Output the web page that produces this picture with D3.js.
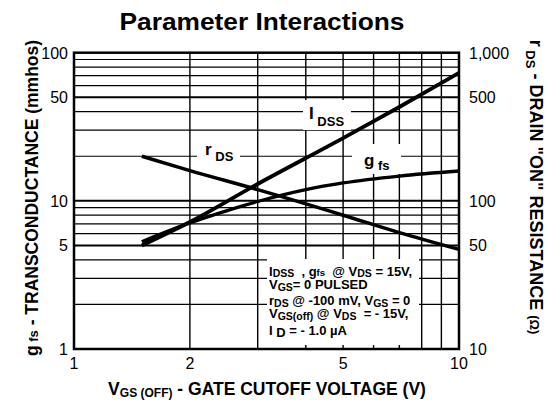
<!DOCTYPE html>
<html><head><meta charset="utf-8">
<script src="https://cdn.jsdelivr.net/npm/d3@7"></script>
<style>
body{margin:0;background:#fff}
svg{display:block}
text{font-family:"Liberation Sans",Arial,Helvetica,sans-serif;fill:#000}
</style>
</head><body>
<svg id="c" width="547" height="403"></svg>
<script>
// ---- data ----
const idssX = [1.5, 2, 3, 5, 7, 10];
const idssY = [5, 7.2, 13, 26.5, 43, 73];          // mA, left axis
const gfsX  = [1.5, 2, 2.5, 3, 4, 5, 7, 10];
const gfsY  = [5.3, 7.1, 8.6, 9.9, 11.9, 13.2, 14.7, 15.9]; // mmhos, left axis
const rdsX  = [1.5, 2, 3, 5, 7, 10];
const rdsY  = [200, 160, 119, 80, 61, 47];          // ohms, right axis
const xTickVals = [1, 2, 5, 10];
const xTickLabels = ["1", "2", "5", "10"];
const yLeftTickVals = [1, 5, 10, 50, 100];
const yLeftTickLabels = ["1", "5", "10", "50", "100"];
const yRightTickVals = [10, 50, 100, 500, 1000];
const yRightTickLabels = ["10", "50", "100", "500", "1,000"];
const xGridVals = [2, 3, 4, 5, 6, 7, 8, 9];
const yGridVals = [2, 3, 4, 5, 6, 7, 8, 9, 10, 20, 30, 40, 50, 60, 70, 80, 90];
const yMajorGrid = [5, 10, 50];

const svg = d3.select("#c");
const L = 74, R = 459, T = 52.7, B = 349;
const x = d3.scaleLog().domain([1, 10]).range([L, R]);
const yL = d3.scaleLog().domain([1, 100]).range([B, T]);
const yR = d3.scaleLog().domain([10, 1000]).range([B, T]);

// grid
const g = svg.append("g");
g.selectAll("line.v").data(xGridVals).join("line")
  .attr("x1", d => x(d)).attr("x2", d => x(d)).attr("y1", T).attr("y2", B)
  .attr("stroke", "#000").attr("stroke-width", 1.4);
g.selectAll("line.h").data(yGridVals).join("line")
  .attr("x1", L).attr("x2", R).attr("y1", d => yL(d)).attr("y2", d => yL(d))
  .attr("stroke", "#000").attr("stroke-width", d => yMajorGrid.includes(d) ? 2 : 1.2);

// white label backgrounds
const bgs = [[303, 100, 48, 30], [197, 143, 43, 27], [352, 144, 49, 30], [267, 259, 152, 86]];
svg.selectAll("rect.bg").data(bgs).join("rect")
  .attr("x", d => d[0]).attr("y", d => d[1]).attr("width", d => d[2]).attr("height", d => d[3])
  .attr("fill", "#fff");

// border
svg.append("rect").attr("x", L).attr("y", T).attr("width", R - L).attr("height", B - T)
  .attr("fill", "none").attr("stroke", "#000").attr("stroke-width", 2.5);

// curves
const lineL = d3.line().x(d => x(d[0])).y(d => yL(d[1])).curve(d3.curveMonotoneX);
const lineR = d3.line().x(d => x(d[0])).y(d => yR(d[1])).curve(d3.curveMonotoneX);
svg.append("path").attr("d", lineL(d3.zip(idssX, idssY))).attr("fill", "none").attr("stroke", "#000").attr("stroke-width", 3.8);
svg.append("path").attr("d", lineL(d3.zip(gfsX, gfsY))).attr("fill", "none").attr("stroke", "#000").attr("stroke-width", 3.3);
svg.append("path").attr("d", lineR(d3.zip(rdsX, rdsY))).attr("fill", "none").attr("stroke", "#000").attr("stroke-width", 3.5);

// tick labels
svg.selectAll("text.xl").data(xTickVals).join("text")
  .attr("x", d => x(d)).attr("y", 369).attr("text-anchor", "middle")
  .attr("font-size", 16).text((d, i) => xTickLabels[i]);
svg.selectAll("text.yl").data(yLeftTickVals).join("text")
  .attr("x", 68).attr("y", d => yL(d) + 6).attr("text-anchor", "end")
  .attr("font-size", 16).text((d, i) => yLeftTickLabels[i]);
svg.selectAll("text.yr").data(yRightTickVals).join("text")
  .attr("x", 469).attr("y", d => yR(d) + 6).attr("text-anchor", "start")
  .attr("font-size", 16).text((d, i) => yRightTickLabels[i]);

// title
svg.append("text").attr("x", 262).attr("y", 30).attr("text-anchor", "middle")
  .attr("font-size", 23).attr("font-weight", "bold")
  .attr("textLength", 285).attr("lengthAdjust", "spacingAndGlyphs")
  .text("Parameter Interactions");

// x axis title
const xt = svg.append("text").attr("x", 267).attr("y", 395).attr("text-anchor", "middle")
  .attr("font-weight", "bold").attr("font-size", 17.5);
xt.append("tspan").text("V");
xt.append("tspan").attr("font-size", 12).attr("dy", 2).text("GS (OFF)");
xt.append("tspan").attr("dy", -2).text(" - GATE CUTOFF VOLTAGE (V)");

// left axis title
const lt = svg.append("text").attr("transform", "translate(38,198) rotate(-90)")
  .attr("text-anchor", "middle").attr("font-weight", "bold").attr("font-size", 17.5);
lt.append("tspan").text("g");
lt.append("tspan").attr("font-size", 13).text(" fs");
lt.append("tspan").text(" - TRANSCONDUCTANCE (mmhos)");

// right axis title
const rt = svg.append("text").attr("transform", "translate(530,187) rotate(90)")
  .attr("text-anchor", "middle").attr("font-weight", "bold").attr("font-size", 18);
rt.append("tspan").text("r");
rt.append("tspan").attr("font-size", 13).attr("dy", 4).text(" DS");
rt.append("tspan").attr("dy", -4).text(" - DRAIN \"ON\" RESISTANCE  ");
rt.append("tspan").attr("font-size", 13).text("(\u03A9)");

// curve labels
function lab(x0, y0, big, small, dy) {
  const t = svg.append("text").attr("x", x0).attr("y", y0).attr("font-weight", "bold").attr("font-size", 17);
  t.append("tspan").text(big);
  t.append("tspan").attr("font-size", 13).attr("dy", dy).text(small);
}
lab(309, 119, "I", " DSS", 7);
lab(205, 155, "r", " DS", 6);
lab(364, 166, "g", " fs", 4);

// conditions box
const lines = [
  [["I", 13, 0], ["DSS", 10.5, 1], ["  , g", 13, -1], ["fs", 9.5, 0], ["  @ V", 13, 0], ["DS", 10.5, 1], [" = 15V,", 13, -1]],
  [["V", 13, 0], ["GS", 10.5, 2], ["= 0 PULSED", 13, -2]],
  [["r", 13, 0], ["DS", 10.5, 1.5], [" @ -100 mV, V", 13, -1.5], ["GS", 10.5, 1.5], [" = 0", 13, -1.5]],
  [["V", 13, 0], ["GS(off)", 10.5, 1.5], [" @ V", 13, -1.5], ["DS", 10.5, 1.5], ["  = - 15V,", 13, -1.5]],
  [["I ", 13, 0], ["D", 13, 2], [" = - 1.0 \u00B5A", 13, -2]]
];
const ly = [276, 289, 305, 318, 335];
lines.forEach((ln, i) => {
  const t = svg.append("text").attr("x", 269).attr("y", ly[i]).attr("font-weight", "bold").attr("font-size", 13).attr("xml:space", "preserve");
  ln.forEach(p => t.append("tspan").attr("font-size", p[1]).attr("dy", p[2]).text(p[0]));
});
</script>
</body></html>
